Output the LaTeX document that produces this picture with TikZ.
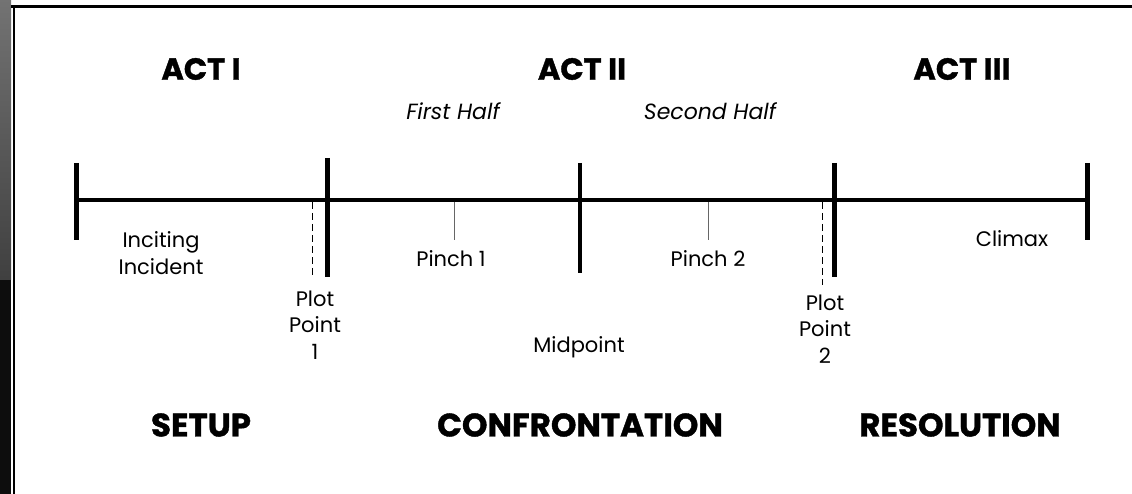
\documentclass[tikz,border=0pt]{standalone}
\usepackage{fontspec}
\setmainfont{Poppins}
\newfontfamily\heavyfont[BoldFeatures={FakeBold=1.2}]{Poppins}
\begin{document}
\begin{tikzpicture}[x=1pt,y=-1pt,
  bar/.style={line width=5pt},
  midbar/.style={line width=3.2pt},
  tick/.style={line width=1pt,black!60},
  dashline/.style={line width=1pt,dash pattern=on 7pt off 4pt},
  act/.style={font=\heavyfont\bfseries\fontsize{30.5}{32}\selectfont,inner sep=0pt},
  phase/.style={font=\heavyfont\bfseries\fontsize{32.5}{34}\selectfont,inner sep=0pt},
  half/.style={font=\itshape\fontsize{22}{24}\selectfont,inner sep=0pt},
  lab/.style={font=\fontsize{21}{26.5}\selectfont,align=center,inner sep=0pt}]
\useasboundingbox (0,0) rectangle (1132,494);
\fill[white] (0,0) rectangle (1132,494);
% left dark strip
\shade[top color=black!55,bottom color=black!75] (0,0) rectangle (11,280);
\fill[black!95] (0,280) rectangle (11,494);
% frame lines
\draw[line width=2.4pt] (11,6.5) -- (1132,6.5);
\draw[line width=2pt] (13.5,6.5) -- (13.5,494);
% timeline
\coordinate (L) at (75,200);
\coordinate (R) at (1087,200);
\draw[line width=4pt] (L) -- (R);
% bars
\coordinate (Lt) at (76,163); \coordinate (Lb) at (76,240);
\coordinate (P1t) at (327,158); \coordinate (P1b) at (327,277);
\coordinate (Mt) at (580,163); \coordinate (Mb) at (580,273);
\coordinate (P2t) at (834,163); \coordinate (P2b) at (834,277);
\coordinate (Rt) at (1087,163); \coordinate (Rb) at (1087,240);
\draw[bar] (Lt) -- (Lb);
\draw[bar] (P1t) -- (P1b);
\draw[midbar] (Mt) -- (Mb);
\draw[bar] (P2t) -- (P2b);
\draw[bar] (Rt) -- (Rb);
% dashed plot-point lines
\coordinate (D1t) at (312,202); \coordinate (D1b) at (312,277);
\coordinate (D2t) at (822,202); \coordinate (D2b) at (822,285);
\draw[dashline] (D1t) -- (D1b);
\draw[dashline] (D2t) -- (D2b);
% pinch ticks
\coordinate (T1t) at (454,202); \coordinate (T1b) at (454,240);
\coordinate (T2t) at (708,202); \coordinate (T2b) at (708,240);
\draw[tick] (T1t) -- (T1b);
\draw[tick] (T2t) -- (T2b);
% headings
\node[act] (a1) at (201,69) {ACT I};
\node[act] (a2) at (582,69) {ACT II};
\node[act] (a3) at (962,69) {ACT III};
\node[half] (h1) at (453,111) {First Half};
\node[half] (h2) at (710,111) {Second Half};
% labels
\node[lab] (inc) at (161,253) {Inciting\\Incident};
\node[lab] (pp1) at (315,325) {Plot\\Point\\1};
\node[lab] (pin1) at (451,259) {Pinch 1};
\node[lab] (pin2) at (708,259) {Pinch 2};
\node[lab] (mid) at (579,347) {Midpoint};
\node[lab] (pp2) at (825,329) {Plot\\Point\\2};
\node[lab] (cli) at (1012,239) {Climax};
% bottom phases
\node[phase] (s1) at (201,425) {SETUP};
\node[phase] (s2) at (580,425) {CONFRONTATION};
\node[phase] (s3) at (960,425) {RESOLUTION};
\end{tikzpicture}
\end{document}
